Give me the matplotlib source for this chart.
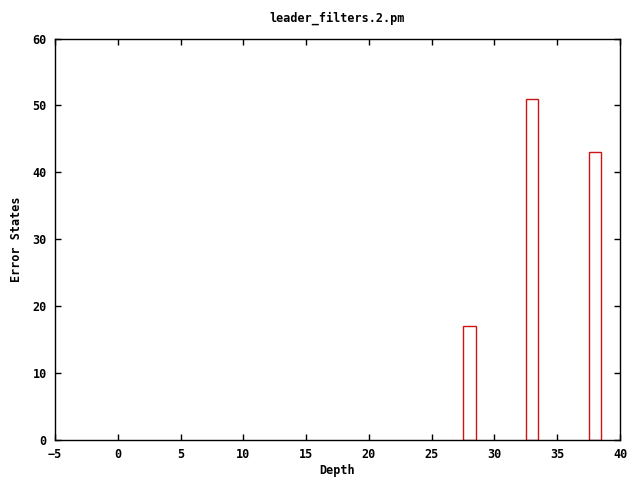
import matplotlib
matplotlib.use("Agg")
import matplotlib.pyplot as plt

# data
depth = [28, 33, 38]
error_states = [17, 51, 43]
xticks = [-5, 0, 5, 10, 15, 20, 25, 30, 35, 40]
yticks = [0, 10, 20, 30, 40, 50, 60]

plt.rcParams['font.family'] = ['DejaVu Sans Mono']
plt.rcParams['font.weight'] = 'bold'
plt.rcParams['font.size'] = 8.5

fig = plt.figure(figsize=(6.4, 4.8), dpi=100)
ax = fig.add_axes([55/640, 40/480, 565/640, 401.5/480])

ax.bar(depth, error_states, width=1.0, fill=False, edgecolor='#cc1414', linewidth=1.0)

ax.set_xlim(-5, 40)
ax.set_ylim(0, 60)
ax.set_xticks(xticks)
ax.set_yticks(yticks)
ax.tick_params(direction='in', length=4, width=1, top=True, right=True, pad=6)
for s in ax.spines.values():
    s.set_linewidth(1)

ax.set_title("leader_filters.2.pm", fontsize=8.5, fontweight='bold', pad=12)
ax.set_xlabel("Depth", fontweight='bold', labelpad=2)
ax.set_ylabel("Error States", fontweight='bold', labelpad=7)

fig.savefig("out.png", dpi=100)
